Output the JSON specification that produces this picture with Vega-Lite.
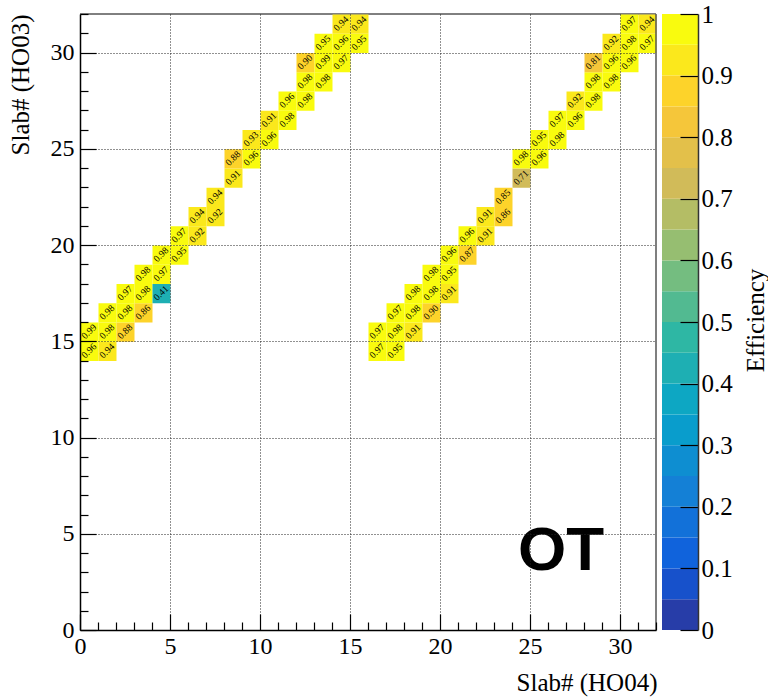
{
  "$schema": "https://vega.github.io/schema/vega-lite/v6.json",
  "width": 618,
  "height": 616,
  "autosize": {"type": "none"},
  "padding": {"left": 80, "top": 14, "right": 70, "bottom": 67},
  "background": "white",
  "config": {"view": {"stroke": null}, "font": "Liberation Serif", "axis": {"labelFont": "Liberation Serif", "titleFont": "Liberation Serif"}},
  "datasets": {
    "cells": [
      {"ho04": 0, "ho03": 14, "eff": 0.96}, {"ho04": 1, "ho03": 14, "eff": 0.94},
      {"ho04": 0, "ho03": 15, "eff": 0.99}, {"ho04": 1, "ho03": 15, "eff": 0.98}, {"ho04": 2, "ho03": 15, "eff": 0.88},
      {"ho04": 1, "ho03": 16, "eff": 0.98}, {"ho04": 2, "ho03": 16, "eff": 0.98}, {"ho04": 3, "ho03": 16, "eff": 0.86},
      {"ho04": 2, "ho03": 17, "eff": 0.97}, {"ho04": 3, "ho03": 17, "eff": 0.98}, {"ho04": 4, "ho03": 17, "eff": 0.41},
      {"ho04": 3, "ho03": 18, "eff": 0.98}, {"ho04": 4, "ho03": 18, "eff": 0.97},
      {"ho04": 4, "ho03": 19, "eff": 0.98}, {"ho04": 5, "ho03": 19, "eff": 0.95},
      {"ho04": 5, "ho03": 20, "eff": 0.97}, {"ho04": 6, "ho03": 20, "eff": 0.92},
      {"ho04": 6, "ho03": 21, "eff": 0.94}, {"ho04": 7, "ho03": 21, "eff": 0.92},
      {"ho04": 7, "ho03": 22, "eff": 0.94},
      {"ho04": 8, "ho03": 23, "eff": 0.91},
      {"ho04": 8, "ho03": 24, "eff": 0.88}, {"ho04": 9, "ho03": 24, "eff": 0.96},
      {"ho04": 9, "ho03": 25, "eff": 0.93}, {"ho04": 10, "ho03": 25, "eff": 0.96},
      {"ho04": 10, "ho03": 26, "eff": 0.91}, {"ho04": 11, "ho03": 26, "eff": 0.98},
      {"ho04": 11, "ho03": 27, "eff": 0.96}, {"ho04": 12, "ho03": 27, "eff": 0.98},
      {"ho04": 12, "ho03": 28, "eff": 0.98}, {"ho04": 13, "ho03": 28, "eff": 0.98},
      {"ho04": 12, "ho03": 29, "eff": 0.898}, {"ho04": 13, "ho03": 29, "eff": 0.99}, {"ho04": 14, "ho03": 29, "eff": 0.97},
      {"ho04": 13, "ho03": 30, "eff": 0.95}, {"ho04": 14, "ho03": 30, "eff": 0.96}, {"ho04": 15, "ho03": 30, "eff": 0.95},
      {"ho04": 14, "ho03": 31, "eff": 0.94}, {"ho04": 15, "ho03": 31, "eff": 0.94},
      {"ho04": 16, "ho03": 14, "eff": 0.97}, {"ho04": 17, "ho03": 14, "eff": 0.95},
      {"ho04": 16, "ho03": 15, "eff": 0.97}, {"ho04": 17, "ho03": 15, "eff": 0.98}, {"ho04": 18, "ho03": 15, "eff": 0.91},
      {"ho04": 17, "ho03": 16, "eff": 0.97}, {"ho04": 18, "ho03": 16, "eff": 0.98}, {"ho04": 19, "ho03": 16, "eff": 0.898},
      {"ho04": 18, "ho03": 17, "eff": 0.98}, {"ho04": 19, "ho03": 17, "eff": 0.98}, {"ho04": 20, "ho03": 17, "eff": 0.91},
      {"ho04": 19, "ho03": 18, "eff": 0.98}, {"ho04": 20, "ho03": 18, "eff": 0.95},
      {"ho04": 20, "ho03": 19, "eff": 0.96}, {"ho04": 21, "ho03": 19, "eff": 0.87},
      {"ho04": 21, "ho03": 20, "eff": 0.96}, {"ho04": 22, "ho03": 20, "eff": 0.91},
      {"ho04": 22, "ho03": 21, "eff": 0.91}, {"ho04": 23, "ho03": 21, "eff": 0.86},
      {"ho04": 23, "ho03": 22, "eff": 0.85},
      {"ho04": 24, "ho03": 23, "eff": 0.71},
      {"ho04": 24, "ho03": 24, "eff": 0.98}, {"ho04": 25, "ho03": 24, "eff": 0.96},
      {"ho04": 25, "ho03": 25, "eff": 0.95}, {"ho04": 26, "ho03": 25, "eff": 0.98},
      {"ho04": 26, "ho03": 26, "eff": 0.97}, {"ho04": 27, "ho03": 26, "eff": 0.96},
      {"ho04": 27, "ho03": 27, "eff": 0.92}, {"ho04": 28, "ho03": 27, "eff": 0.98},
      {"ho04": 28, "ho03": 28, "eff": 0.98}, {"ho04": 29, "ho03": 28, "eff": 0.98},
      {"ho04": 28, "ho03": 29, "eff": 0.81}, {"ho04": 29, "ho03": 29, "eff": 0.96}, {"ho04": 30, "ho03": 29, "eff": 0.96},
      {"ho04": 29, "ho03": 30, "eff": 0.92}, {"ho04": 30, "ho03": 30, "eff": 0.98}, {"ho04": 31, "ho03": 30, "eff": 0.97},
      {"ho04": 30, "ho03": 31, "eff": 0.97}, {"ho04": 31, "ho03": 31, "eff": 0.94}
    ],
    "bands": [
      {"lo": 0, "hi": 0.05}, {"lo": 0.05, "hi": 0.1}, {"lo": 0.1, "hi": 0.15}, {"lo": 0.15, "hi": 0.2},
      {"lo": 0.2, "hi": 0.25}, {"lo": 0.25, "hi": 0.3}, {"lo": 0.3, "hi": 0.35}, {"lo": 0.35, "hi": 0.4},
      {"lo": 0.4, "hi": 0.45}, {"lo": 0.45, "hi": 0.5}, {"lo": 0.5, "hi": 0.55}, {"lo": 0.55, "hi": 0.6},
      {"lo": 0.6, "hi": 0.65}, {"lo": 0.65, "hi": 0.7}, {"lo": 0.7, "hi": 0.75}, {"lo": 0.75, "hi": 0.8},
      {"lo": 0.8, "hi": 0.85}, {"lo": 0.85, "hi": 0.9}, {"lo": 0.9, "hi": 0.95}, {"lo": 0.95, "hi": 1}
    ],
    "one": [{}]
  },
  "layer": [
    {
      "data": {"name": "one"},
      "mark": {"type": "rule", "color": "black", "strokeWidth": 1},
      "encoding": {
        "x": {"datum": 0, "type": "quantitative", "scale": {"domain": [0, 32], "range": [0, 576], "nice": false, "zero": false}, "axis": null},
        "x2": {"datum": 32},
        "y": {"datum": 32, "type": "quantitative", "scale": {"domain": [0, 32], "nice": false, "zero": false}, "axis": null}
      }
    },
    {
      "data": {"name": "cells"},
      "mark": {"type": "rect", "binSpacing": 0},
      "encoding": {
        "x": {
          "field": "ho04", "type": "quantitative", "bin": {"extent": [0, 32], "step": 1},
          "scale": {"domain": [0, 32], "range": [0, 576], "nice": false, "zero": false},
          "axis": {
            "orient": "bottom",
            "values": [0,1,2,3,4,5,6,7,8,9,10,11,12,13,14,15,16,17,18,19,20,21,22,23,24,25,26,27,28,29,30,31,32],
            "labelExpr": "datum.value % 5 === 0 ? datum.label : ''",
            "tickSize": 0,
            "encoding": {
              "ticks": {"y2": {"condition": {"test": "datum.value % 5 === 0", "value": -16}, "value": -8}},
              "labels": {"font": {"value": "Liberation Serif"}}
            },
            "tickColor": "black", "tickWidth": 1.2,
            "domainColor": "black", "domainWidth": 1.5,
            "grid": true, "gridDash": [1, 2], "gridColor": "#222", "gridWidth": 1,
            "gridOpacity": {"condition": {"test": "datum.value % 5 === 0 && datum.value > 0 && datum.value < 32", "value": 1}, "value": 0},
            "labelFont": "Liberation Serif", "labelFontSize": 24, "labelColor": "black", "labelPadding": 4,
            "labelFlush": false, "labelOverlap": false, "labelBound": false,
            "title": "Slab# (HO04)", "titleFont": "Liberation Serif", "titleFontSize": 25, "titleFontWeight": "normal", "titleColor": "black",
            "titleX": 577, "titleY": 60, "titleAlign": "right", "titleBaseline": "alphabetic",
            "zindex": 1
          }
        },
        "y": {
          "field": "ho03", "type": "quantitative", "bin": {"extent": [0, 32], "step": 1},
          "scale": {"domain": [0, 32], "nice": false, "zero": false},
          "axis": {
            "orient": "left",
            "values": [0,1,2,3,4,5,6,7,8,9,10,11,12,13,14,15,16,17,18,19,20,21,22,23,24,25,26,27,28,29,30,31,32],
            "labelExpr": "datum.value % 5 === 0 ? datum.label : ''",
            "tickSize": 0,
            "encoding": {
              "ticks": {"x2": {"condition": {"test": "datum.value % 5 === 0", "value": 16}, "value": 8}},
              "labels": {"font": {"value": "Liberation Serif"}}
            },
            "tickColor": "black", "tickWidth": 1.2,
            "domainColor": "black", "domainWidth": 1.5,
            "grid": true, "gridDash": [1, 2], "gridColor": "#222", "gridWidth": 1,
            "gridOpacity": {"condition": {"test": "datum.value % 5 === 0 && datum.value > 0 && datum.value < 32", "value": 1}, "value": 0},
            "labelFont": "Liberation Serif", "labelFontSize": 24, "labelColor": "black", "labelPadding": 6,
            "labelFlush": false, "labelOverlap": false, "labelBound": false, "labelBaseline": "middle",
            "title": "Slab# (HO03)", "titleFont": "Liberation Serif", "titleFontSize": 25, "titleFontWeight": "normal", "titleColor": "black",
            "titleX": -60, "titleY": 0, "titleAngle": 270, "titleAlign": "right", "titleBaseline": "middle",
            "zindex": 1
          }
        },
        "color": {
          "field": "eff", "type": "quantitative",
          "scale": {
            "type": "threshold",
            "domain": [0.05, 0.1, 0.15, 0.2, 0.25, 0.3, 0.35, 0.4, 0.45, 0.5, 0.55, 0.6, 0.65, 0.7, 0.75, 0.8, 0.85, 0.9, 0.95],
            "range": ["#273da8", "#1751cb", "#1063dc", "#1271d9", "#1480d6", "#0e8ed1", "#099dcc", "#0da7c3", "#1eafb3", "#2eb7a4", "#52ba91", "#74bd80", "#96be71", "#b4bd65", "#d1bb59", "#e3c04a", "#f5c63a", "#fdd32a", "#fbe81c", "#f9fb0e"]
          },
          "legend": null
        }
      }
    },
    {
      "data": {"name": "cells"},
      "mark": {"type": "text", "angle": 315, "font": "Liberation Serif", "fontSize": 9.5, "color": "black", "align": "center", "baseline": "middle"},
      "encoding": {
        "x": {"field": "ho04", "type": "quantitative", "bin": {"extent": [0, 32], "step": 1}, "scale": {"domain": [0, 32], "range": [0, 576], "nice": false, "zero": false}, "axis": null},
        "y": {"field": "ho03", "type": "quantitative", "bin": {"extent": [0, 32], "step": 1}, "scale": {"domain": [0, 32], "nice": false, "zero": false}, "axis": null},
        "text": {"field": "eff", "type": "quantitative", "format": ".2f"}
      }
    },
    {
      "data": {"name": "one"},
      "mark": {"type": "rule", "color": "#555555", "strokeWidth": 1.5},
      "encoding": {
        "x": {"datum": 32, "type": "quantitative", "scale": {"domain": [0, 32], "range": [0, 576], "nice": false, "zero": false}, "axis": null},
        "y": {"datum": 0, "type": "quantitative", "scale": {"domain": [0, 32], "nice": false, "zero": false}, "axis": null},
        "y2": {"datum": 32}
      }
    },
    {
      "data": {"name": "one"},
      "mark": {"type": "text", "text": "OT", "font": "Liberation Sans", "fontWeight": "bold", "fontSize": 62, "color": "black", "align": "center", "baseline": "alphabetic"},
      "encoding": {
        "x": {"datum": 26.72, "type": "quantitative", "scale": {"domain": [0, 32], "range": [0, 576], "nice": false, "zero": false}, "axis": null},
        "y": {"datum": 3.12, "type": "quantitative", "scale": {"domain": [0, 32], "nice": false, "zero": false}, "axis": null}
      }
    },
    {
      "data": {"name": "bands"},
      "mark": {"type": "rect"},
      "encoding": {
        "x": {"datum": 0, "type": "quantitative", "scale": {"domain": [0, 1], "range": [582, 618], "nice": false, "zero": false}, "axis": null},
        "x2": {"datum": 1},
        "y": {
          "field": "lo", "type": "quantitative",
          "scale": {"domain": [0, 1], "nice": false, "zero": false},
          "axis": {
            "orient": "right",
            "values": [0, 0.1, 0.2, 0.3, 0.4, 0.5, 0.6, 0.7, 0.8, 0.9, 1],
            "format": "~g",
            "tickSize": 0,
            "encoding": {"ticks": {"x2": {"value": -18}}},
            "tickColor": "black", "tickWidth": 1.2,
            "domainColor": "#333", "domainWidth": 1.5,
            "grid": false,
            "labelFont": "Liberation Serif", "labelFontSize": 25, "labelColor": "black", "labelPadding": 3,
            "labelFlush": false, "labelOverlap": false, "labelBound": false, "labelBaseline": "middle",
            "title": "Efficiency", "titleFont": "Liberation Serif", "titleFontSize": 25, "titleFontWeight": "normal", "titleColor": "black",
            "titleX": 57, "titleY": 306, "titleAngle": 270, "titleAlign": "center", "titleBaseline": "middle",
            "zindex": 1
          }
        },
        "y2": {"field": "hi"},
        "color": {
          "field": "lo", "type": "quantitative",
          "scale": {
            "type": "threshold",
            "domain": [0.05, 0.1, 0.15, 0.2, 0.25, 0.3, 0.35, 0.4, 0.45, 0.5, 0.55, 0.6, 0.65, 0.7, 0.75, 0.8, 0.85, 0.9, 0.95],
            "range": ["#273da8", "#1751cb", "#1063dc", "#1271d9", "#1480d6", "#0e8ed1", "#099dcc", "#0da7c3", "#1eafb3", "#2eb7a4", "#52ba91", "#74bd80", "#96be71", "#b4bd65", "#d1bb59", "#e3c04a", "#f5c63a", "#fdd32a", "#fbe81c", "#f9fb0e"]
          },
          "legend": null
        }
      }
    }
  ],
  "resolve": {"scale": {"x": "independent", "y": "independent"}}
}
